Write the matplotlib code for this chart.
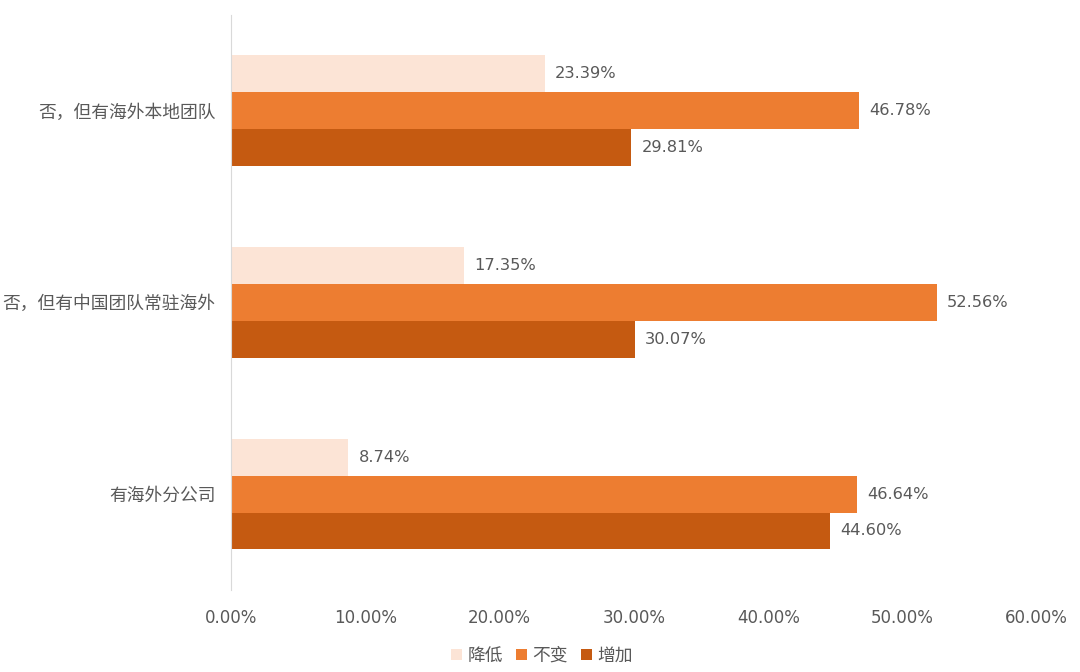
import matplotlib.pyplot as plt
import numpy as np

plt.rcParams['font.family'] = ['DejaVu Sans', 'Noto Sans CJK SC']

categories = ["有海外分公司", "否，但有中国团队常驻海外", "否，但有海外本地团队"]
series = ["降低", "不变", "增加"]
decrease = [8.74, 17.35, 23.39]
unchanged = [46.64, 52.56, 46.78]
increase = [44.60, 30.07, 29.81]
xticks = [0, 10, 20, 30, 40, 50, 60]

colors = ["#FCE4D6", "#ED7D31", "#C55A11"]
text_color = "#595959"

fig = plt.figure(figsize=(10.8, 6.72), dpi=100)
ax = fig.add_axes([0.2139, 0.122, 0.7461, 0.856])

y = np.arange(len(categories))
h = 0.192
values = [decrease, unchanged, increase]
offsets = [h, 0, -h]
for vals, off, col, name in zip(values, offsets, colors, series):
    bars = ax.barh(y + off, vals, height=h, color=col, label=name)
    for b, v in zip(bars, vals):
        ax.text(b.get_width() + 0.75, b.get_y() + b.get_height() / 2,
                f"{v:.2f}%", va="center", ha="left", fontsize=11.7,
                color=text_color)

ax.set_xlim(0, 60)
ax.set_ylim(-0.5, 2.5)
ax.set_xticks(xticks)
ax.set_xticklabels([f"{t:.2f}%" for t in xticks], fontsize=12, color=text_color)
ax.set_yticks(y)
ax.set_yticklabels(categories, fontsize=12.8, color=text_color)
ax.tick_params(length=0)
ax.tick_params(axis="x", pad=14)
ax.tick_params(axis="y", pad=11)
for s in ["top", "right", "bottom"]:
    ax.spines[s].set_visible(False)
ax.spines["left"].set_color("#D9D9D9")

ax.legend(loc="center", bbox_to_anchor=(0.386, -0.114), ncol=3,
          frameon=False, fontsize=12.8, handlelength=0.6, handleheight=0.6,
          handletextpad=0.3, columnspacing=0.75, labelcolor=text_color)

fig.savefig("out.png")
